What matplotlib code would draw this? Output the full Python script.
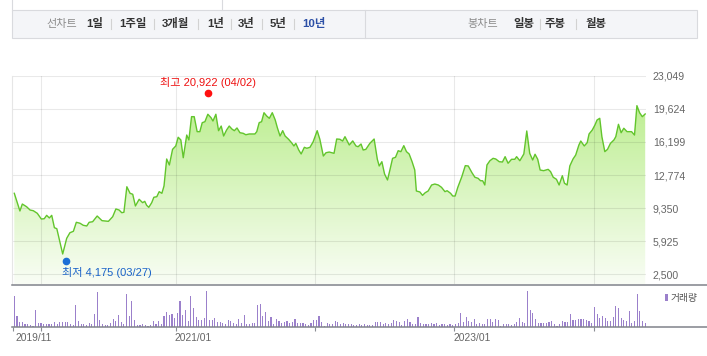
import numpy as np
import matplotlib.pyplot as plt
from matplotlib.colors import LinearSegmentedColormap
from matplotlib.patches import Rectangle
from matplotlib.lines import Line2D
import matplotlib.transforms as mtransforms

plt.rcParams['font.family'] = ['Liberation Sans', 'Noto Sans CJK KR', 'DejaVu Sans']

W, H = 707, 356

# week index (0 = first week on the chart) and closing price
weeks = [0, 2.1, 3.0, 4.6, 5.9, 7.1, 8.6, 10.1, 11.2, 12.1, 13.1, 14.0, 15.0, 15.9,
         18.1, 19.6, 20.8, 22.1, 23.2, 24.6, 25.8, 27.1, 28.0, 29.3, 31.0, 32.8,
         35.2, 36.8, 38.0, 39.2, 40.2, 41.0, 42.1, 43.3, 44.3, 45.3, 46.7, 48.0,
         48.8, 49.5, 50.3, 51.4, 52.2, 53.3, 54.2, 55.2, 56.0, 57.0, 58.0, 59.2,
         60.4, 61.3, 62.3, 63.2, 64.5, 65.3, 66.3, 67.3, 68.4, 69.4, 70.3, 71.3,
         72.4, 73.6, 74.3, 75.4, 76.4, 77.4, 78.3, 79.4, 80.4, 81.4, 82.3, 83.3,
         84.4, 85.6, 86.6, 87.9, 90.0, 90.7, 91.6, 92.5, 93.4, 94.4, 95.4, 96.5,
         97.6, 98.4, 99.4, 100.4, 101.3, 102.6, 103.7, 104.6, 105.3, 106.4, 107.3,
         108.5, 109.4, 110.6, 111.8, 113.3, 114.3, 115.6, 116.6, 117.8, 119.6,
         120.6, 121.8, 122.8, 123.7, 125.3, 126.6, 127.8, 128.6, 129.7, 130.5,
         131.5, 133.0, 134.6, 135.8, 136.5, 137.5, 138.5, 139.6, 140.5, 141.5,
         142.6, 143.6, 144.6, 145.7, 146.7, 147.7, 148.8, 149.8, 150.4, 151.7,
         152.7, 153.7, 154.8, 156.1, 157.3, 158.6, 159.8, 161.1, 161.9, 163.2,
         164.0, 164.9, 165.9, 167.4, 168.7, 169.8, 171.2, 172.3, 173.5, 174.4,
         175.2, 176.0, 176.8, 177.9, 179.1, 180.1, 181.4, 182.6, 183.6, 184.7,
         186.0, 187.2, 187.9, 189.1, 190.6, 191.7, 192.8, 193.9, 194.8, 195.8,
         196.7, 198.0, 199.7, 200.6, 201.6, 202.8, 203.8, 205.0, 205.8, 206.8,
         207.8, 209.0, 210.0, 211.2, 211.9, 213.2, 214.3, 215.0, 216.2, 217.2,
         218.0, 219.0, 219.8, 220.9, 221.9, 223.0, 224.3, 225.0, 226.0, 227.0,
         228.0, 229.2, 230.9, 232.0, 232.9, 233.9, 234.9, 236.0]
prices = [10880, 9050, 9770, 9490, 9150, 9080, 8810, 8220, 8250, 8600, 8330, 8600, 7320, 7220,
          4600, 6225, 6800, 6950, 7880, 7780, 7570, 7500, 7880, 7940, 8530, 8050,
          7980, 8460, 9260, 9150, 8870, 8920, 11560, 10880, 10780, 9570, 10260, 9910,
          10050, 9640, 9430, 9910, 10470, 10530, 11050, 10880, 11640, 14430, 13810, 15430,
          15780, 16680, 16400, 14560, 16910, 16400, 18810, 18810, 17260, 17260, 18190, 18290,
          19060, 18700, 18360, 19060, 17360, 17840, 16810, 17430, 17840, 17530, 17360, 17640,
          17150, 17090, 16940, 17020, 17020, 17260, 18190, 18290, 19220, 18880, 18640, 19220,
          18470, 17670, 16810, 17360, 16810, 16470, 16120, 15780, 16050, 15360, 14950,
          15640, 15540, 15640, 16220, 17360, 16470, 14740, 15080, 15150, 15020,
          16500, 16470, 16290, 16740, 15880, 16300, 15780, 15700, 15980, 15360,
          15430, 16050, 16500, 14400, 13710, 14150, 12880, 12260, 13290, 14500,
          14610, 15290, 15190, 15810, 15190, 14950, 14150, 13290, 11120, 11020,
          10670, 10940, 11120, 11740, 11840, 11740, 11500, 11050, 11150, 10880,
          10600, 10600, 11500, 12600, 13740, 13710, 13010, 12540, 12430, 12180,
          12180, 11740, 13810, 14250, 14500, 14430, 14150, 14120, 14670, 13990,
          14400, 14400, 14670, 14250, 14950, 17330, 15020, 14330, 14920, 14400,
          13290, 13220, 13360, 13120, 12540, 12330, 11740, 12700, 11920, 11740,
          13710, 14430, 14840, 15880, 16290, 15780, 16120, 17020, 17430, 17950,
          18470, 18640, 16740, 15190, 15430, 16050, 16400, 16740, 18020, 17150,
          17610, 17260, 17260, 16910, 19950, 19220, 18810, 19090]

# weekly volume (relative units), one bar per week starting at week 0
volume = [93, 33, 15, 15, 9, 9, 6, 3, 51, 12,
          12, 9, 9, 9, 9, 15, 9, 15, 15, 15,
          15, 9, 6, 66, 18, 9, 9, 6, 12, 9,
          39, 105, 21, 9, 6, 6, 12, 24, 18, 36,
          15, 9, 99, 33, 78, 21, 6, 6, 9, 6,
          3, 6, 18, 9, 18, 9, 33, 45, 36, 39,
          27, 42, 78, 36, 51, 18, 93, 57, 30, 21,
          21, 27, 108, 21, 21, 27, 15, 15, 12, 9,
          21, 18, 12, 9, 24, 12, 36, 9, 9, 12,
          12, 66, 69, 33, 45, 18, 30, 9, 24, 18,
          12, 15, 18, 12, 15, 24, 12, 12, 12, 9,
          6, 12, 21, 21, 33, 15, 3, 12, 9, 9,
          18, 15, 9, 12, 9, 9,
          9, 6, 6, 9, 6, 9, 6, 6, 6, 15,
          15, 15, 9, 12, 9, 12, 21, 18, 15, 6,
          18, 24, 15, 9, 9, 30, 12, 9, 9, 9,
          12, 9, 12, 6, 9, 9, 6, 9, 6, 9,
          12, 42, 15, 30, 18, 15, 24, 9, 12, 9,
          9, 24, 24, 15, 24, 21, 3, 9, 9, 9,
          6, 9, 15, 27, 15, 12, 108, 51, 42, 24,
          12, 12, 12, 12, 15, 18, 9, 3, 9, 18,
          15, 15, 39, 21, 21, 24, 24, 24, 21, 18,
          12, 60, 39, 27, 33, 27, 18, 18, 30, 63,
          57, 27, 21, 18, 48, 12, 18, 99, 48, 18,
          12]

price_ticks = [2500, 5925, 9350, 12774, 16199, 19624, 23049]
grid_weeks = [10.1, 60.4, 112.6, 164.5, 216.9]
date_labels = ['2019/11', '2021/01', '2023/01']
date_label_weeks = [0.5, 60.1, 164.2]

high_week, high_price, high_label = 72.3, 20922, '최고 20,922 (04/02)'
low_week, low_price, low_label = 19.2, 4175, '최저 4,175 (03/27)'

line_items = ['1일', '1주일', '3개월', '1년', '3년', '5년', '10년']
line_item_x = [86, 119, 162, 207, 238, 270, 302]
candle_items = ['일봉', '주봉', '월봉']
candle_item_x = [513, 545, 585]

XMIN, XMAX = -0.75, 236.3
YMIN, YMAX = 1465, 23049


def fx(px):
    return px / W


def fy(py):
    return 1 - py / H


fig = plt.figure(figsize=(W / 100, H / 100), dpi=100)
renderer = fig.canvas.get_renderer()

# ---- top selector bar
fig.patches.append(Rectangle((fx(12), fy(38)), fx(697) - fx(12), fy(10) - fy(38),
                             transform=fig.transFigure, facecolor='#f4f5f8',
                             edgecolor='#d9dade', lw=0.8))
for xs, ys in [([364.7, 364.7], [10, 38]), ([12, 12], [0, 10]), ([222, 222], [0, 10])]:
    fig.add_artist(Line2D([fx(v) for v in xs], [fy(v) for v in ys], color='#d9dade', lw=0.8))

ty = fy(23.5)
fig.text(fx(46), ty, '선차트', color='#8c8c8c', fontsize=8, va='center')
fig.text(fx(467), ty, '봉차트', color='#8c8c8c', fontsize=8, va='center')


def menu(items, xs):
    prev_end = None
    for lab, x in zip(items, xs):
        col = '#2c4fa6' if lab == '10년' else '#333333'
        t = fig.text(fx(x), ty, lab, color=col, fontsize=8.2, fontweight='bold', va='center')
        bb = t.get_window_extent(renderer)
        if prev_end is not None:
            sx = (prev_end + bb.x0) / 2
            fig.add_artist(Line2D([sx / W, sx / W], [fy(18.5), fy(28.5)],
                                  color='#d2d2d2', lw=0.8))
        prev_end = bb.x1


menu(line_items, line_item_x)
menu(candle_items, candle_item_x)

# ---- price panel
ax = fig.add_axes([fx(12.3), fy(284.3), fx(646) - fx(12.3), fy(75.7) - fy(284.3)])
cmap = LinearSegmentedColormap.from_list('fill', ['#f9fdf5', '#b4ec82'])
poly = ax.fill_between(weeks, prices, YMIN, facecolor='none', edgecolor='none')
grad = np.linspace(0, 1, 256).reshape(-1, 1)
im = ax.imshow(grad, extent=[XMIN, XMAX, YMIN, YMAX], origin='lower', aspect='auto',
               cmap=cmap, zorder=1)
im.set_clip_path(poly.get_paths()[0], transform=ax.transData)
ax.plot(weeks, prices, color='#62c52c', lw=1.0, zorder=3)

ax.set_xlim(XMIN, XMAX)
ax.set_ylim(YMIN, YMAX)
ax.set_yticks(price_ticks)
ax.set_yticklabels([f'{v:,}' for v in price_ticks])
ax.set_xticks(grid_weeks)
ax.yaxis.tick_right()
ax.tick_params(axis='y', length=0, pad=5, labelsize=7.6, labelcolor='#666666')
ax.tick_params(axis='x', length=0, labelbottom=False)
ax.grid(True, color='black', alpha=0.085, lw=0.8)
for s in ['top', 'right', 'bottom']:
    ax.spines[s].set_visible(False)
ax.spines['left'].set_color('#e6e6e6')

# high / low markers
up = mtransforms.offset_copy(ax.transData, fig=fig, x=0, y=2.2, units='points')
down = mtransforms.offset_copy(ax.transData, fig=fig, x=0, y=-2.2, units='points')
ax.plot([high_week], [high_price], 'o', color='#ff1010', ms=4.5, transform=up,
        clip_on=False, zorder=4)
ax.plot([low_week], [low_price], 'o', color='#1c6fd6', ms=4.5, transform=down,
        clip_on=False, zorder=4)
ax.annotate(high_label, (high_week, high_price), xytext=(0, 10.2), textcoords='offset points',
            ha='center', va='center', color='#ee1111', fontsize=8, zorder=4)
ax.annotate(low_label, (low_week, low_price), xytext=(-2.4, -10.2), textcoords='offset points',
            ha='left', va='center', color='#1a63c8', fontsize=8, zorder=4)

# ---- volume panel
vax = fig.add_axes([fx(12.3), fy(327), fx(646) - fx(12.3), fy(290.3) - fy(327)])
vax.bar(np.arange(len(volume)), volume, width=0.42, color='#9b80cb', lw=0,
        antialiased=False)
vax.set_xlim(XMIN, XMAX)
vax.set_ylim(0, 110)
vax.set_yticks([])
vax.set_xticks([-0.37] + grid_weeks)
vax.tick_params(axis='x', length=3, width=0.8, color='#8a8d93', labelbottom=False)
for s in vax.spines.values():
    s.set_visible(False)
for lab, x in zip(date_labels, date_label_weeks):
    vax.text(x, -0.31, lab, transform=vax.get_xaxis_transform(), ha='left', va='center',
             fontsize=7.4, color='#666666')

# volume legend
fig.patches.append(Rectangle((fx(665), fy(301)), fx(3), fy(0) - fy(7.5),
                             transform=fig.transFigure, facecolor='#9b80cb', edgecolor='none'))
fig.text(fx(670.5), fy(297.5), '거래량', fontsize=7, color='#555555', va='center')

# axis baselines spanning the full width
for py in [284.5, 327]:
    fig.add_artist(Line2D([fx(12.3), fx(707)], [fy(py), fy(py)], color='#80838a', lw=1.1))

fig.savefig('out.png', dpi=100)
